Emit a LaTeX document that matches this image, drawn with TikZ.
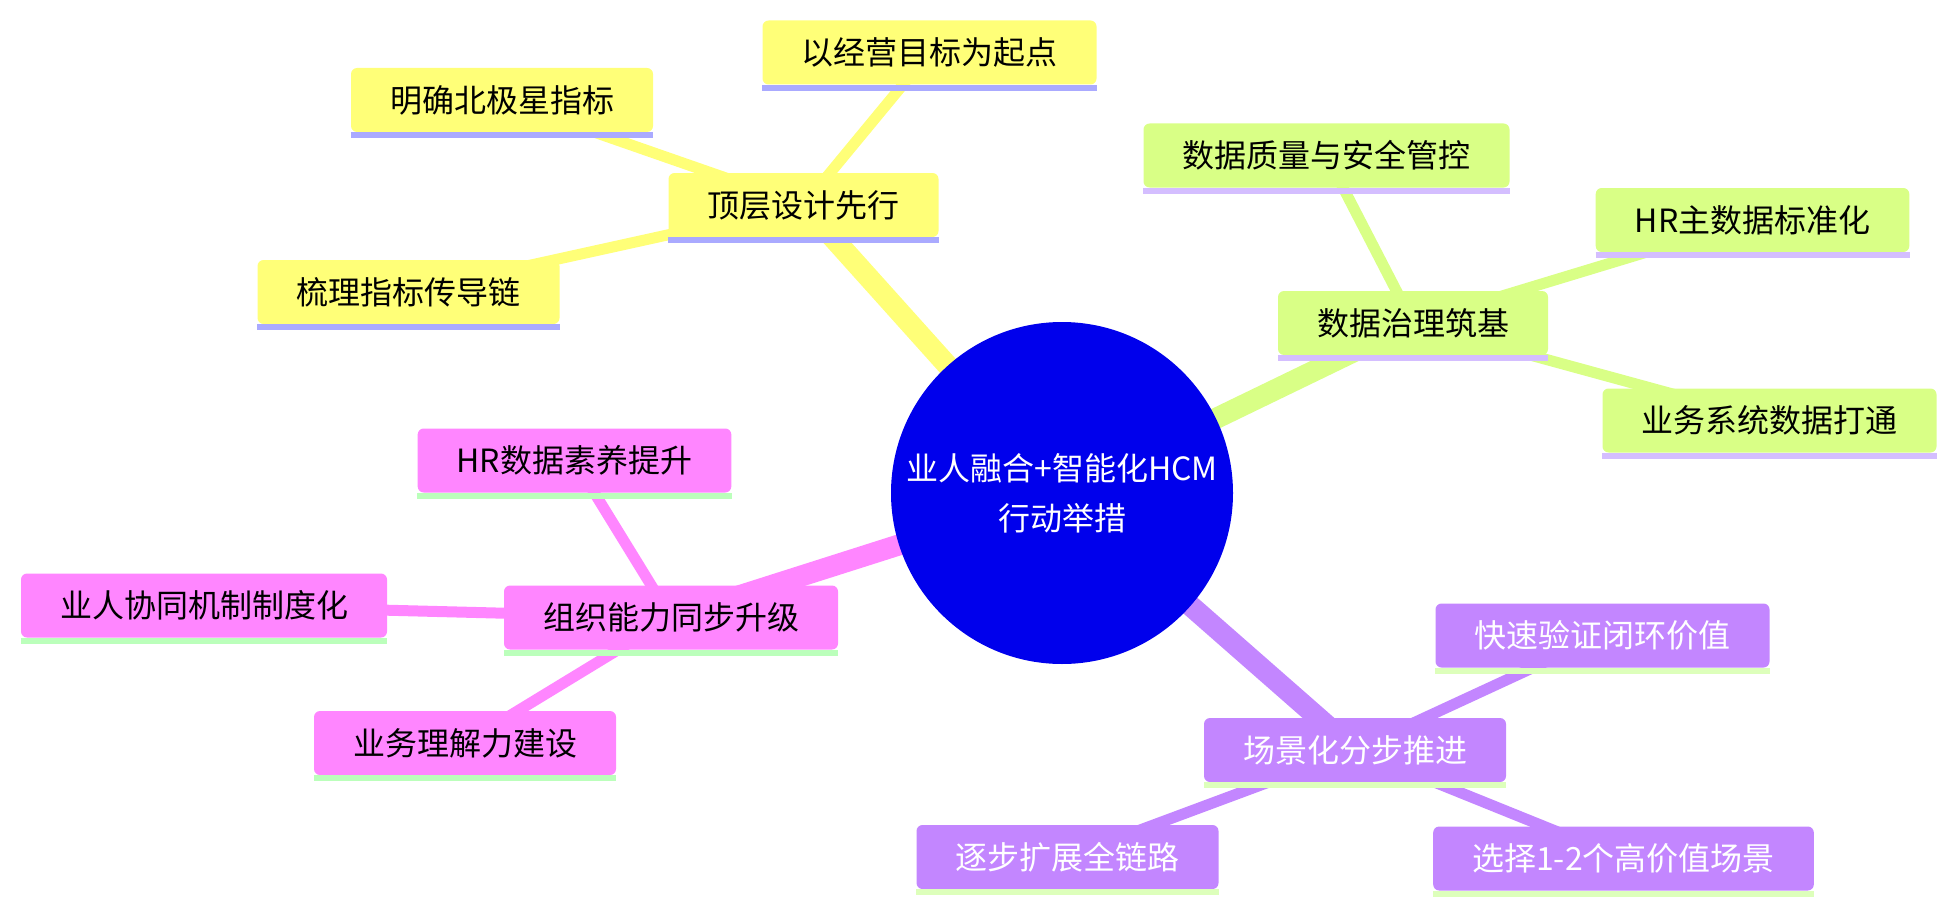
\documentclass[tikz,border=0pt]{standalone}
\usepackage{fontspec}
\newfontfamily\cjk{Noto Sans CJK SC}
\usetikzlibrary{backgrounds}

% section colours
\definecolor{rootblue}{HTML}{0000EC}
\definecolor{secyellow}{HTML}{FFFF78}
\definecolor{secgreen}{HTML}{D9FF86}
\definecolor{secpink}{HTML}{FF86FF}
\definecolor{secpurple}{HTML}{C386FF}
\definecolor{ulyellow}{HTML}{AAAAFF}
\definecolor{ulgreen}{HTML}{D4BEFF}
\definecolor{ulpink}{HTML}{BBFFBB}
\definecolor{ulpurple}{HTML}{DDFFBB}

\begin{document}
\begin{tikzpicture}[x=1pt, y=-1pt,
          % Base node styles
          box/.style={rectangle, rounded corners=6pt, align=center, minimum height=64pt, inner xsep=39pt, inner ysep=0pt, font=\cjk\fontsize{32}{38}\selectfont},
          rootnode/.style={circle, fill=rootblue, text=white, minimum size=342pt, inner sep=0pt, align=center, font=\cjk\fontsize{32}{50}\selectfont},
          % Section styles
          ybox/.style={box, fill=secyellow},
          gbox/.style={box, fill=secgreen},
          pbox/.style={box, fill=secpink},
          vbox/.style={box, fill=secpurple, text=white},
          % Underline styles
          uline/.style={line width=6pt},
          % Edge styles
          rootedge/.style={line width=21pt},
          kidedge/.style={line width=11pt}
        ]
          \useasboundingbox (0,0) rectangle (1957,915);

          % ==========================================
          % 1. Root
          % ==========================================
          \node[rootnode] (root) at (1062,493) {业人融合+智能化HCM\\行动举措};

          % ==========================================
          % 2. Yellow section
          % ==========================================
          \node[ybox] (design) at (803.5,205) {顶层设计先行};
          \node[ybox] (goal) at (929.5,52.5) {以经营目标为起点};
          \node[ybox] (northstar) at (502,100) {明确北极星指标};
          \node[ybox] (chain) at (408.5,292) {梳理指标传导链};

          % ==========================================
          % 3. Green section
          % ==========================================
          \node[gbox] (govern) at (1413,323) {数据治理筑基};
          \node[gbox] (quality) at (1326.5,155.5) {数据质量与安全管控};
          \node[gbox] (hrmaster) at (1752.5,220) {HR主数据标准化};
          \node[gbox] (syslink) at (1769.5,420.5) {业务系统数据打通};

          % ==========================================
          % 4. Pink section
          % ==========================================
          \node[pbox] (orgup) at (671,617.5) {组织能力同步升级};
          \node[pbox] (literacy) at (574.5,460.5) {HR数据素养提升};
          \node[pbox] (collab) at (204,605.5) {业人协同机制制度化};
          \node[pbox] (bizsense) at (465,743) {业务理解力建设};

          % ==========================================
          % 5. Purple section
          % ==========================================
          \node[vbox] (scene) at (1355,750) {场景化分步推进};
          \node[vbox] (quick) at (1602.5,635.5) {快速验证闭环价值};
          \node[vbox] (expand) at (1067.5,857) {逐步扩展全链路};
          \node[vbox] (pick) at (1623.5,858.5) {选择1-2个高价值场景};

          % Underlines
          \foreach \n in {design, goal, northstar, chain}
            \draw[uline, ulyellow] ([yshift=-3pt]\n.south west) -- ([yshift=-3pt]\n.south east);
          \foreach \n in {govern, quality, hrmaster, syslink}
            \draw[uline, ulgreen] ([yshift=-3pt]\n.south west) -- ([yshift=-3pt]\n.south east);
          \foreach \n in {orgup, literacy, collab, bizsense}
            \draw[uline, ulpink] ([yshift=-3pt]\n.south west) -- ([yshift=-3pt]\n.south east);
          \foreach \n in {scene, quick, expand, pick}
            \draw[uline, ulpurple] ([yshift=-3pt]\n.south west) -- ([yshift=-3pt]\n.south east);

          % ==========================================
          % 6. Edges
          % ==========================================
          \begin{scope}[on background layer]
            \draw[rootedge, secyellow] (root.center) -- (design.center);
            \draw[rootedge, secgreen] (root.center) -- (govern.center);
            \draw[rootedge, secpink] (root.center) -- (orgup.center);
            \draw[rootedge, secpurple] (root.center) -- (scene.center);

            \foreach \n in {goal, northstar, chain}
              \draw[kidedge, secyellow] (design.center) -- (\n.center);
            \foreach \n in {quality, hrmaster, syslink}
              \draw[kidedge, secgreen] (govern.center) -- (\n.center);
            \foreach \n in {literacy, collab, bizsense}
              \draw[kidedge, secpink] (orgup.center) -- (\n.center);
            \foreach \n in {quick, expand, pick}
              \draw[kidedge, secpurple] (scene.center) -- (\n.center);
          \end{scope}
        \end{tikzpicture}
\end{document}
